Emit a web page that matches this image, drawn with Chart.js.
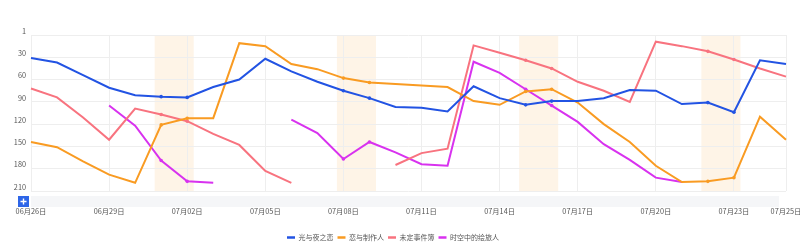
<!DOCTYPE html>
<html>
<head>
<meta charset="utf-8">
<script src="https://cdn.jsdelivr.net/npm/chart.js@4.4.0/dist/chart.umd.min.js"></script>
<style>
  body { margin: 0; background: #fff; }
</style>
</head>
<body>
<canvas id="myChart" width="800" height="244"></canvas>
<script>
// dates on the x axis
const dates = [
  '06月26日', '06月27日', '06月28日', '06月29日', '06月30日', '07月01日', '07月02日', '07月03日',
  '07月04日', '07月05日', '07月06日', '07月07日', '07月08日', '07月09日', '07月10日', '07月11日',
  '07月12日', '07月13日', '07月14日', '07月15日', '07月16日', '07月17日', '07月18日', '07月19日',
  '07月20日', '07月21日', '07月22日', '07月23日', '07月24日', '07月25日'
];
// dates that get a tick label
const shownDates = ['06月26日', '06月29日', '07月02日', '07月05日', '07月08日', '07月11日',
  '07月14日', '07月17日', '07月20日', '07月23日', '07月25日'];
// weekends (shaded, with marked points)
const weekendDates = ['07月01日', '07月02日', '07月08日', '07月09日', '07月15日', '07月16日', '07月22日', '07月23日'];

const seriesNames = ['光与夜之恋', '恋与制作人', '未定事件簿', '时空中的绘旅人'];
const seriesColors = ['#2253e3', '#f99b22', '#f8737f', '#d832ef'];

// rank per day (1 = top)
const guangYuYe = [31, 37, 54, 71, 81, 83, 84, 70, 60, 32, 49, 63, 75, 85, 97, 98, 103, 69, 85, 94, 89, 89, 85, 74, 75, 93, 91, 104, 34, 39];
const lianYuZhiZuo = [144, 151, 170, 188, 199, 121, 112, 112, 11, 15, 39, 46, 58, 64, 66, 68, 70, 89, 94, 76, 73, 91, 120, 144, 176, 198, 197, 192, 110, 141];
const weiDingShiJian = [72, 84, 111, 141, 99, 107, 116, 133, 148, 183, 199, null, null, null, 175, 159, 153, 14, 24, 34, 45, 63, 75, 90, 9, 15, 22, 33, 45, 56];
const shiKongLvRen = [null, null, null, 95, 122, 169, 197, 199, null, null, 114, 132, 167, 144, 158, 174, 176, 36, 51, 73, 95, 117, 147, 168, 192, 198, null, null, null, null];

const rankTicks = [0, 30, 60, 90, 120, 150, 180, 210];

const weekendIdx = weekendDates.map(d => dates.indexOf(d));

const font = { family: "'Noto Sans CJK SC', 'Noto Sans', sans-serif", size: 7.3 };
const legendFont = { family: "'Noto Sans CJK SC', 'Noto Sans', sans-serif", size: 7 };

// shaded weekend bands + the zoom bar under the plot
const decor = {
  id: 'decor',
  beforeDraw(chart) {
    const { ctx, chartArea, scales } = chart;
    const x = scales.x;
    ctx.save();
    ctx.fillStyle = '#fef4e7';
    for (let i = 0; i < weekendIdx.length; i += 2) {
      const x1 = x.getPixelForValue(weekendIdx[i] - 0.25);
      const x2 = x.getPixelForValue(weekendIdx[i + 1] + 0.25);
      ctx.fillRect(x1, chartArea.top, x2 - x1, chartArea.bottom - chartArea.top);
    }
    // zoom bar
    ctx.fillStyle = '#f5f6f8';
    ctx.fillRect(chartArea.left, chartArea.bottom + 5, chartArea.right - chartArea.left - 7, 11);
    ctx.fillStyle = '#2e66e8';
    ctx.fillRect(chartArea.left - 13, chartArea.bottom + 5, 11, 11);
    ctx.strokeStyle = '#fff';
    ctx.lineWidth = 1.4;
    const cx = chartArea.left - 7.5, cy = chartArea.bottom + 10.5;
    ctx.beginPath();
    ctx.moveTo(cx - 3, cy); ctx.lineTo(cx + 3, cy);
    ctx.moveTo(cx, cy - 3); ctx.lineTo(cx, cy + 3);
    ctx.stroke();
    ctx.restore();
  }
};

const allSeries = [guangYuYe, lianYuZhiZuo, weiDingShiJian, shiKongLvRen];

const data = {
  labels: dates,
  datasets: allSeries.map((s, i) => ({
    label: seriesNames[i],
    data: s,
    borderColor: seriesColors[i],
    backgroundColor: seriesColors[i],
    borderWidth: 2,
    tension: 0,
    pointRadius: c => weekendIdx.includes(c.dataIndex) ? 1.8 : 0,
    pointBorderWidth: 0,
    pointHoverRadius: 0
  }))
};

const config = {
  type: 'line',
  data: data,
  plugins: [decor],
  options: {
    responsive: false,
    animation: false,
    layout: { padding: { top: 35, right: 14, left: 0, bottom: -7 } },
    scales: {
      x: {
        border: { display: false },
        grid: { color: '#eeeeee', drawTicks: false },
        ticks: {
          autoSkip: false,
          maxRotation: 0,
          padding: 16,
          color: '#555',
          font: font,
          callback: function (v, i) {
            const l = dates[i];
            return shownDates.includes(l) ? l : null;
          }
        },
        afterFit: s => {
          s.height = 39;
          s.paddingRight = 0;
          s.paddingLeft = 0;
        }
      },
      y: {
        reverse: true,
        min: 0,
        max: 210,
        border: { display: false },
        grid: { color: '#eeeeee', drawTicks: false },
        afterBuildTicks: s => { s.ticks = rankTicks.map(v => ({ value: v })); },
        ticks: {
          padding: 5,
          labelOffset: -4,
          color: '#555',
          font: font,
          callback: v => v === 0 ? '1' : v
        },
        afterFit: s => { s.width = 31; }
      }
    },
    plugins: {
      legend: {
        position: 'bottom',
        labels: {
          usePointStyle: true,
          pointStyle: 'line',
          pointStyleWidth: 8,
          padding: 4,
          color: '#555',
          font: legendFont,
          generateLabels: chart => Chart.defaults.plugins.legend.labels.generateLabels(chart).map((item, i) => {
            item.strokeStyle = seriesColors[i];
            item.lineWidth = 2.5;
            return item;
          })
        }
      },
      tooltip: { enabled: false }
    }
  }
};

const myChart = new Chart(document.getElementById('myChart'), config);
</script>
</body>
</html>
